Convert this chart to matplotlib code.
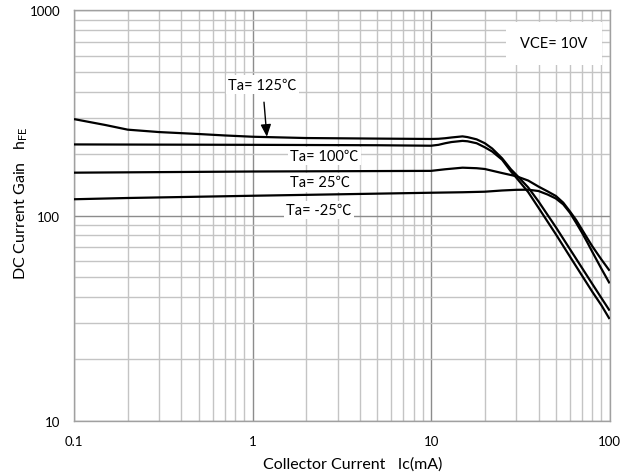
import matplotlib
matplotlib.use("Agg")
import matplotlib.pyplot as plt
from matplotlib.ticker import LogLocator, FixedLocator, FixedFormatter, NullFormatter

plt.rcParams['font.family'] = ['Lato', 'Noto Sans CJK JP', 'DejaVu Sans']
plt.rcParams['mathtext.fontset'] = 'custom'
plt.rcParams['mathtext.rm'] = 'Lato'
plt.rcParams['mathtext.it'] = 'Lato'

# Collector current (mA) and DC current gain for each temperature
ic_125 = [0.1, 0.15, 0.2, 0.3, 0.5, 0.7, 1, 2, 5, 10, 11, 12, 13, 15, 16, 18, 20, 22, 25, 28, 30, 35, 40, 50, 60, 70, 80, 90, 100]
hfe_125 = [295, 276, 262, 255, 249.5, 245.5, 242, 238.5, 237, 236, 236.5, 238, 240, 243, 241, 235, 225, 212, 190, 168, 158, 137, 117, 87.7, 68.5, 55.6, 46.4, 39.6, 34.4]

ic_100 = [0.1, 0.3, 1, 5, 10, 11, 12, 13, 15, 16, 18, 20, 22, 25, 28, 30, 35, 40, 50, 60, 70, 80, 90, 100]
hfe_100 = [222, 221.5, 221, 220, 218.8, 221, 225, 228, 231, 230, 225, 215, 205, 187, 164, 153, 130, 109, 81, 63, 51, 42.5, 36.5, 31.3]

ic_25 = [0.1, 1, 10, 12, 15, 18, 20, 25, 30, 35, 40, 45, 50, 55, 60, 65, 70, 75, 80, 90, 100]
hfe_25 = [161.7, 163.8, 165, 168, 171, 170, 168.5, 161, 155.4, 148, 138.3, 131, 124.5, 115.5, 104.6, 95, 85.5, 77.5, 70.8, 61, 53.8]

ic_m25 = [0.1, 0.2, 1, 10, 15, 20, 25, 30, 35, 40, 45, 50, 55, 60, 65, 70, 75, 80, 90, 100]
hfe_m25 = [120, 121.7, 124.8, 129.1, 129.8, 130.6, 132.4, 133.4, 133.6, 131.6, 126.5, 121, 113.3, 103, 92, 82.5, 74, 66.5, 55, 46.7]

x_ticks = [0.1, 1, 10, 100]
x_tick_labels = ['0.1', '1', '10', '100']
y_ticks = [10, 100, 1000]
y_tick_labels = ['10', '100', '1000']

fig = plt.figure(figsize=(6.33, 4.77), dpi=100)
ax = fig.add_axes([74/633, 1-421.7/477, (609.6-74)/633, (421.7-11.3)/477])
ax.set_xscale('log')
ax.set_yscale('log')
ax.set_xlim(0.1, 100)
ax.set_ylim(10, 1000)

ax.xaxis.set_major_locator(FixedLocator(x_ticks))
ax.xaxis.set_major_formatter(FixedFormatter(x_tick_labels))
ax.yaxis.set_major_locator(FixedLocator(y_ticks))
ax.yaxis.set_major_formatter(FixedFormatter(y_tick_labels))
ax.xaxis.set_minor_locator(LogLocator(base=10, subs=range(2, 10), numticks=20))
ax.yaxis.set_minor_locator(LogLocator(base=10, subs=range(2, 10), numticks=20))
ax.xaxis.set_minor_formatter(NullFormatter())
ax.yaxis.set_minor_formatter(NullFormatter())

ax.grid(True, which='minor', color='#c4c4c4', lw=1.0, zorder=0)
ax.grid(True, which='major', color='#8c8c8c', lw=1.0, zorder=0)
ax.set_axisbelow(True)
for s in ax.spines.values():
    s.set_color('#a0a0a0')
    s.set_linewidth(1.0)
ax.tick_params(which='both', length=0, labelsize=9.5, colors='black')
ax.tick_params(axis='x', pad=10)
ax.tick_params(axis='y', pad=10)

for xs, ys in [(ic_125, hfe_125), (ic_100, hfe_100), (ic_25, hfe_25), (ic_m25, hfe_m25)]:
    ax.plot(xs, ys, color='black', lw=1.6, solid_joinstyle='round', solid_capstyle='butt', zorder=3)

ax.set_xlabel('Collector Current   Ic(mA)', fontsize=11.5)
ax.xaxis.set_label_coords((353-74)/(609.6-74), -(457-421.7)/(421.7-11.3))
ax.set_ylabel(r'DC Current Gain   h$_{\mathregular{FE}}$', fontsize=11.5)
ax.yaxis.set_label_coords(-(74-30)/(609.6-74), (421.7-203)/(421.7-11.3))

box = dict(boxstyle='square,pad=0.15', fc='white', ec='none')
ax.text(2.53, 194.3, 'Ta= 100℃', fontsize=10.5, ha='center', va='center', bbox=box, zorder=4)
ax.text(2.40, 145.1, 'Ta= 25℃', fontsize=10.5, ha='center', va='center', bbox=box, zorder=4)
ax.text(2.36, 106.7, 'Ta= -25℃', fontsize=10.5, ha='center', va='center', bbox=box, zorder=4)
ax.annotate('Ta= 125℃', xy=(1.203, 242), xytext=(1.138, 434), fontsize=10.5,
            ha='center', va='center', bbox=box, zorder=4,
            arrowprops=dict(arrowstyle='-|>,head_length=0.7,head_width=0.3', color='black', lw=1.0,
                            shrinkA=6, shrinkB=0))
ax.text(48.9, 690, 'VCE= 10V', fontsize=10.5, ha='center', va='center',
        bbox=dict(boxstyle='square,pad=1.0', fc='white', ec='none'), zorder=4)

fig.savefig('out.png', dpi=100)
